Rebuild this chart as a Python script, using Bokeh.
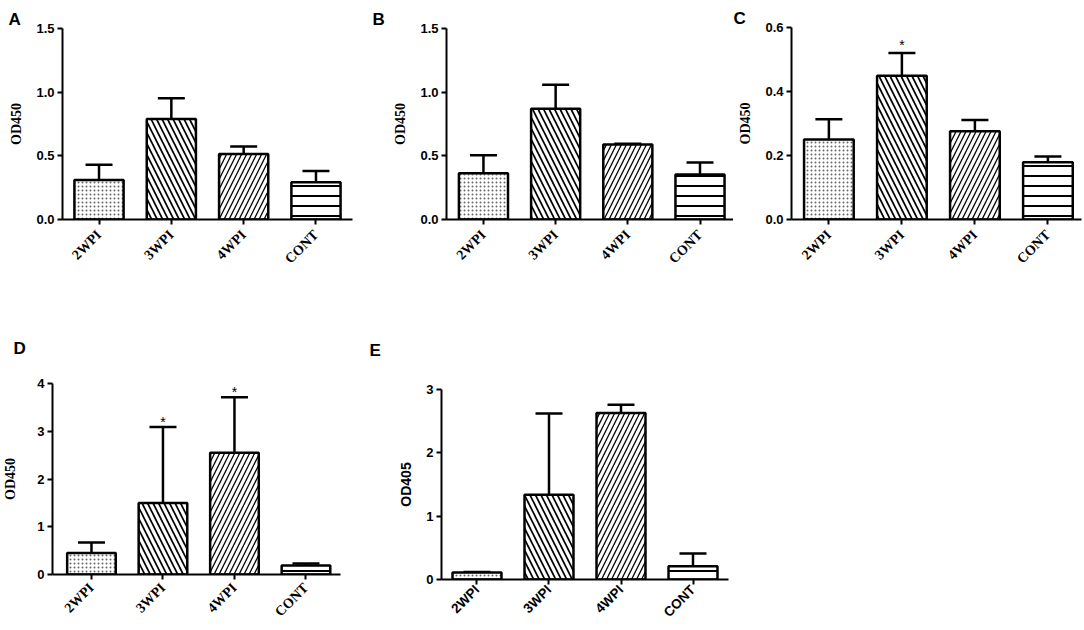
import math
from bokeh.plotting import figure
from bokeh.models import (ColumnDataSource, Whisker, TeeHead, FixedTicker,
                          NumeralTickFormatter)
from bokeh.layouts import column, row
from bokeh.embed import file_html
from bokeh.resources import INLINE
from bokeh.core.properties import value

# ---------------- data ----------------
categories = ["2WPI", "3WPI", "4WPI", "CONT"]

a_mean = [0.31, 0.79, 0.515, 0.293]
a_upper = [0.43, 0.953, 0.573, 0.38]
a_lower = [0.19, 0.62, 0.445, 0.20]
a_stars = ["", "", "", ""]

b_mean = [0.364, 0.87, 0.589, 0.353]
b_upper = [0.505, 1.058, 0.594, 0.448]
b_lower = [0.215, 0.681, 0.584, 0.249]
b_stars = ["", "", "", ""]

c_mean = [0.250, 0.449, 0.276, 0.179]
c_upper = [0.313, 0.520, 0.311, 0.197]
c_lower = [0.187, 0.376, 0.243, 0.165]
c_stars = ["", "*", "", ""]

d_mean = [0.45, 1.50, 2.55, 0.19]
d_upper = [0.67, 3.09, 3.71, 0.23]
d_lower = [0.21, 0.0, 1.38, 0.14]
d_stars = ["", "*", "*", ""]

e_mean = [0.11, 1.34, 2.63, 0.21]
e_upper = [0.12, 2.62, 2.76, 0.41]
e_lower = [0.10, 0.05, 2.50, 0.01]
e_stars = ["", "", "", ""]

ab_yticks = [0, 0.5, 1.0, 1.5]
c_yticks = [0, 0.2, 0.4, 0.6]
d_yticks = [0, 1, 2, 3, 4]
e_yticks = [0, 1, 2, 3]

# ---------------- styles ----------------
hatch_patterns = ["dot", "left_diagonal_line", "right_diagonal_line", "horizontal_line"]
hatch_scales = [4, 11, 10, 10]
hatch_weights = [0.8, 1.7, 1.3, 2.0]
hatch_colors = ["#666666", "black", "black", "black"]

SANS = "Liberation Sans"
SERIF = "Liberation Serif"


def panel(letter, means, uppers, lowers, stars, yticks, yfmt, ylabel,
          x_start, x_end, y_end, width, height, bl, br, bt, bb,
          label_font, star_off, letter_offset, letter_standoff, ylabel_standoff,
          xlabel_size="14px", xlabel_standoff=8):
    xs = list(range(1, len(categories) + 1))
    src = ColumnDataSource(dict(
        x=xs, top=means, upper=uppers, lower=lowers, star=stars,
        hp=hatch_patterns, hs=hatch_scales, hw=hatch_weights, hc=hatch_colors,
    ))
    p = figure(width=width, height=height, x_range=(x_start, x_end),
               y_range=(0, y_end), output_backend="svg", toolbar_location=None,
               min_border_left=bl, min_border_right=br, min_border_top=bt,
               min_border_bottom=bb)
    p.outline_line_color = None
    p.grid.visible = False
    p.background_fill_color = "white"
    p.border_fill_color = "white"

    p.title.text = letter
    p.title.align = "left"
    p.title.offset = letter_offset
    p.title.standoff = letter_standoff
    p.title.text_font = SANS
    p.title.text_font_style = "bold"
    p.title.text_font_size = "17px"
    p.title.text_color = "black"

    p.vbar(x="x", top="top", bottom=0, width=0.68, source=src,
           fill_color="white", line_color="black", line_width=2.5,
           hatch_pattern="hp", hatch_scale="hs", hatch_weight="hw",
           hatch_color="hc")

    w = Whisker(source=src, base="x", upper="upper", lower="lower",
                line_width=2.5, line_color="black",
                upper_head=TeeHead(size=27, line_width=2.5, line_color="black"),
                lower_head=TeeHead(size=27, line_width=2.5, line_color="black"))
    p.add_layout(w)

    p.text(x="x", y="upper", text="star", source=src, text_align="center",
           text_baseline="middle", y_offset=star_off,
           text_font=value(SANS), text_font_size="14px", text_color="black")

    # axes
    for ax in (p.xaxis[0], p.yaxis[0]):
        ax.axis_line_width = 2
        ax.axis_line_color = "black"
        ax.major_tick_line_width = 2
        ax.major_tick_out = 5
        ax.major_tick_in = 0
        ax.minor_tick_line_color = None
        ax.major_label_text_font_style = "bold"
        ax.major_label_text_color = "black"

    xa = p.xaxis[0]
    xa.ticker = FixedTicker(ticks=xs)
    xa.major_label_overrides = {x: c for x, c in zip(xs, categories)}
    xa.major_label_orientation = math.pi / 4
    xa.major_label_text_font = label_font
    xa.major_label_text_font_size = xlabel_size
    xa.major_label_standoff = xlabel_standoff

    ya = p.yaxis[0]
    ya.ticker = FixedTicker(ticks=yticks)
    ya.formatter = NumeralTickFormatter(format=yfmt)
    ya.major_label_text_font = SANS
    ya.major_label_text_font_size = "13px"
    ya.major_label_standoff = 3
    ya.axis_label = ylabel
    ya.axis_label_text_font = label_font
    ya.axis_label_text_font_style = "bold"
    ya.axis_label_text_font_size = "14px"
    ya.axis_label_text_color = "black"
    ya.axis_label_standoff = ylabel_standoff
    return p


# top row (height 325): frames at y 28..219
pa = panel("A", a_mean, a_upper, a_lower, a_stars, ab_yticks, "0.0", "OD450",
           0.495, 4.505, 1.5, 370, 325, 62, 18, 28, 106, SERIF, -7, -54, 0, 9)
pb = panel("B", b_mean, b_upper, b_lower, b_stars, ab_yticks, "0.0", "OD450",
           0.488, 4.464, 1.5, 363, 325, 76, 0, 28, 106, SERIF, -7, -74, 0, 9)
pc = panel("C", c_mean, c_upper, c_lower, c_stars, c_yticks, "0.0", "OD450",
           0.488, 4.46, 0.6, 349, 325, 58, 1, 27, 106, SERIF, -8, -58, 0, 9)
# bottom row (height 303); two-line titles keep the letter higher above the frame
pd = panel("D\n\u00a0", d_mean, d_upper, d_lower, d_stars, d_yticks, "0", "OD450",
           0.455, 4.483, 4.0, 370, 303, 47, 30, 58, 54, SERIF, -5, -39, 13, 16,
           xlabel_standoff=6)
pe = panel("E\n\u00a0", e_mean, e_upper, e_lower, e_stars, e_yticks, "0", "OD405",
           0.507, 4.493, 3.0, 363, 303, 71, 5, 64, 47, SANS, -5, -72, 22, 9,
           xlabel_size="13.5px", xlabel_standoff=3)

layout = column(row(column(pa), column(pb), column(pc)),
                row(column(pd), column(pe)))

open("out.html", "w").write(file_html(layout, INLINE))
